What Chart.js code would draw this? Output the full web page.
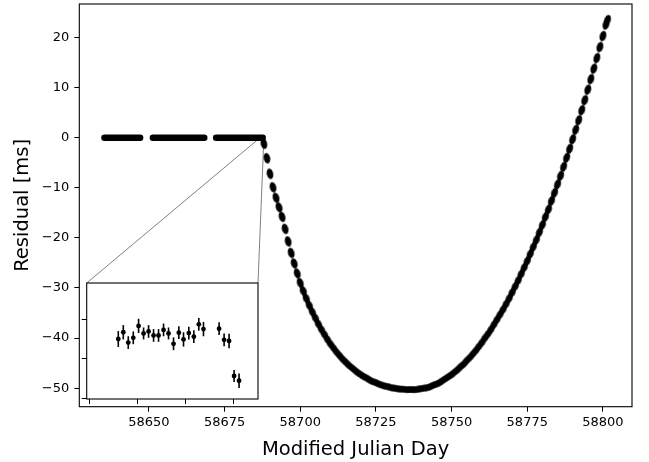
<!DOCTYPE html>
<html><head><meta charset="utf-8">
<script src="https://cdn.jsdelivr.net/npm/chart.js@4"></script>
<style>
html,body{margin:0;padding:0;background:#fff;}
#wrap{position:relative;width:649px;height:462px;overflow:hidden;}
#main{position:absolute;left:0;top:0;}
#inset{position:absolute;left:80px;top:279px;}
</style></head><body>
<div id="wrap"><canvas id="main" width="649" height="462"></canvas><canvas id="inset" width="182" height="128"></canvas></div>
<script>
// ---------- data ----------
// flat (pre-event) runs of timing residuals, all ~0 ms
const flatStart = [58635.3, 58651.3, 58672.2];
const flatEnd   = [58647.1, 58668.3, 58687.6];
const flatLevel = [0, 0, 0];

// post-event residuals [ms] vs MJD
const curveMJD = [58688,58689,58690,58691,58692,58693,58694,58695,58696,58697,58698,58699,58700,
58701,58702,58703,58704,58705,58706,58707,58708,58709,58710,58711,58712,58713,58714,58715,58716,58717,58718,58719,58720,
58721,58722,58723,58724,58725,58726,58727,58728,58729,58730,58731,58732,58733,58734,58735,58736,58737,58738,58739,58740,
58741,58742,58743,58744,58745,58746,58747,58748,58749,58750,58751,58752,58753,58754,58755,58756,58757,58758,58759,58760,
58761,58762,58763,58764,58765,58766,58767,58768,58769,58770,58771,58772,58773,58774,58775,58776,58777,58778,58779,58780,
58781,58782,58783,58784,58785,58786,58787,58788,58789,58790,58791,58792,58793,58794,58795,58796,58797,58798,58799,58800,58801,58801.5];
const curveRes = [-1.2,-4.1,-7.2,-9.9,-12.0,-13.9,-15.8,-18.2,-20.7,-23.0,-25.1,-27.1,-29.0,
-30.6,-32.1,-33.5,-34.8,-36.0,-37.2,-38.3,-39.3,-40.3,-41.2,-42.0,-42.8,-43.5,-44.2,-44.8,-45.4,-45.9,-46.4,-46.9,-47.3,
-47.7,-48.0,-48.4,-48.7,-48.9,-49.2,-49.4,-49.6,-49.7,-49.9,-50.0,-50.1,-50.2,-50.2,-50.3,-50.3,-50.3,-50.3,-50.2,-50.1,
-50.0,-49.9,-49.7,-49.4,-49.2,-48.9,-48.5,-48.1,-47.7,-47.3,-46.8,-46.3,-45.7,-45.2,-44.5,-43.9,-43.2,-42.5,-41.7,-40.9,
-40.0,-39.2,-38.3,-37.3,-36.3,-35.3,-34.3,-33.2,-32.1,-30.9,-29.7,-28.5,-27.2,-25.9,-24.6,-23.2,-21.8,-20.4,-18.9,-17.4,
-15.8,-14.3,-12.6,-11.0,-9.3,-7.6,-5.8,-4.0,-2.2,-0.3,1.6,3.5,5.5,7.5,9.6,11.7,13.8,15.9,18.1,20.3,22.6,23.5];

const xTicks = [58650, 58675, 58700, 58725, 58750, 58775, 58800];
const yTicks = [-50, -40, -30, -20, -10, 0, 10, 20];
const xRange = [58627.0, 58809.6];
const yRange = [-53.7, 26.7];

// zoomed region shown in the inset (main-axis units)
const zoomX = [58687.3, 58688.0];
const zoomY = [-0.3, 0.3];

// inset: residuals in the zoomed window (inset units, unlabelled axes)
const insetX = [6.07,7.11,8.14,9.18,10.28,11.32,12.35,13.39,14.42,15.46,16.49,17.53,18.63,19.60,20.70,21.74,22.77,23.74,26.98,28.02,29.05,30.09,31.12];
const insetY = [5.0,6.7,4.1,5.3,8.3,6.4,6.9,5.9,5.9,7.3,6.4,3.8,6.6,4.9,6.5,5.6,8.7,7.5,7.6,4.8,4.5,-4.3,-5.5];
const insetErr = [2.0,1.8,1.6,1.6,1.8,1.5,1.6,1.6,1.6,1.6,1.5,1.6,1.6,1.8,1.6,1.6,1.6,1.8,1.6,1.6,1.8,1.5,1.8];
const insetXTicks = [0, 10, 20, 30];
const insetYTicks = [-10, 0, 10];
const insetXRange = [-0.48, 35.05];
const insetYRange = [-10.1, 19.1];

// ---------- layout / style ----------
const insetPos = {left: 80, top: 279};

Chart.defaults.font.family = "'DejaVu Sans', sans-serif";
Chart.defaults.color = '#000';

// elongated marker (a day's cluster of TOAs), oriented along the curve
const blob = document.createElement('canvas');
blob.width = 11; blob.height = 7;
(function () {
  const c = blob.getContext('2d');
  c.fillStyle = '#000';
  c.beginPath();
  c.ellipse(5.5, 3.5, 5.3, 3.3, 0, 0, Math.PI * 2);
  c.fill();
})();

const framePlugin = {
  id: 'frame',
  afterDraw(chart) {
    const {ctx, chartArea: a} = chart;
    ctx.save();
    ctx.strokeStyle = '#000';
    ctx.lineWidth = 1.1;
    ctx.strokeRect(a.left, a.top, a.right - a.left, a.bottom - a.top);
    ctx.restore();
  }
};

const whiteBg = {
  id: 'whiteBg',
  beforeDraw(chart) {
    const {ctx, chartArea: a} = chart;
    ctx.save();
    ctx.fillStyle = '#fff';
    ctx.fillRect(a.left, a.top, a.right - a.left, a.bottom - a.top);
    ctx.restore();
  }
};

const errorBars = {
  id: 'errorBars',
  beforeDatasetsDraw(chart) {
    const {ctx, scales: {x, y}} = chart;
    ctx.save();
    ctx.strokeStyle = '#000';
    ctx.lineWidth = 1.6;
    insetX.forEach((xv, i) => {
      const px = x.getPixelForValue(xv);
      ctx.beginPath();
      ctx.moveTo(px, y.getPixelForValue(insetY[i] - insetErr[i]));
      ctx.lineTo(px, y.getPixelForValue(insetY[i] + insetErr[i]));
      ctx.stroke();
    });
    ctx.restore();
  }
};

function fixedTicks(vals) {
  return (s) => { s.ticks = vals.map(v => ({value: v})); };
}
function fixSize(prop, size) {
  return (s) => {
    s[prop] = size;
    s.paddingTop = 0; s.paddingBottom = 0; s.paddingLeft = 0; s.paddingRight = 0;
  };
}

const insetChart = new Chart(document.getElementById('inset'), {
  type: 'scatter',
  data: {datasets: [{
    data: insetX.map((v, i) => ({x: v, y: insetY[i]})),
    pointRadius: 2.4, pointBackgroundColor: '#000', pointBorderWidth: 0
  }]},
  options: {
    responsive: false, animation: false, devicePixelRatio: 1,
    layout: {padding: {left: 0, top: 3.7, right: 3.7, bottom: 0}},
    plugins: {legend: {display: false}, tooltip: {enabled: false}},
    scales: {
      x: {type: 'linear', min: insetXRange[0], max: insetXRange[1],
          afterBuildTicks: fixedTicks(insetXTicks), afterFit: fixSize('height', 8),
          ticks: {display: false},
          grid: {drawOnChartArea: false, color: '#000', tickLength: 5, tickWidth: 1},
          border: {display: false}},
      y: {type: 'linear', min: insetYRange[0], max: insetYRange[1],
          afterBuildTicks: fixedTicks(insetYTicks), afterFit: fixSize('width', 6.7),
          ticks: {display: false},
          grid: {drawOnChartArea: false, color: '#000', tickLength: 5, tickWidth: 1},
          border: {display: false}}
    }
  },
  plugins: [whiteBg, errorBars, framePlugin]
});

const connectors = {
  id: 'connectors',
  beforeDatasetsDraw(chart) {
    const {ctx, scales: {x, y}} = chart;
    const ia = insetChart.chartArea;
    const bx0 = x.getPixelForValue(zoomX[0]), bx1 = x.getPixelForValue(zoomX[1]);
    const by0 = y.getPixelForValue(zoomY[1]), by1 = y.getPixelForValue(zoomY[0]);
    ctx.save();
    ctx.strokeStyle = '#808080';
    ctx.lineWidth = 1;
    ctx.strokeRect(bx0, by0, bx1 - bx0, by1 - by0);
    ctx.beginPath();
    ctx.moveTo(insetPos.left + ia.left, insetPos.top + ia.top);
    ctx.lineTo(bx0, by0);
    ctx.moveTo(insetPos.left + ia.right, insetPos.top + ia.top);
    ctx.lineTo(bx1, by0);
    ctx.stroke();
    ctx.restore();
  }
};

function curveAngle(ctx) {
  const i = ctx.dataIndex;
  const sx = ctx.chart.scales.x, sy = ctx.chart.scales.y;
  if (!sx || !sy) return 0;
  const a = Math.max(0, i - 1), b = Math.min(curveMJD.length - 1, i + 1);
  const dx = sx.getPixelForValue(curveMJD[b]) - sx.getPixelForValue(curveMJD[a]);
  const dy = sy.getPixelForValue(curveRes[b]) - sy.getPixelForValue(curveRes[a]);
  return Math.atan2(dy, dx) * 180 / Math.PI;
}

const flatSets = flatStart.map((s, i) => ({
  data: [{x: s, y: flatLevel[i]}, {x: flatEnd[i], y: flatLevel[i]}],
  showLine: true, borderColor: '#000', borderWidth: 6.4, borderCapStyle: 'round',
  pointRadius: 0
}));

new Chart(document.getElementById('main'), {
  type: 'scatter',
  data: {datasets: [...flatSets, {
    data: curveMJD.map((v, i) => ({x: v, y: curveRes[i]})),
    pointStyle: blob, pointRadius: 4, pointRotation: curveAngle,
    pointBackgroundColor: '#000', pointBorderWidth: 0
  }]},
  options: {
    responsive: false, animation: false, devicePixelRatio: 1,
    layout: {padding: {left: 0, top: 0.7, right: 17, bottom: 0}},
    plugins: {legend: {display: false}, tooltip: {enabled: false}},
    scales: {
      x: {type: 'linear', min: xRange[0], max: xRange[1],
          afterBuildTicks: fixedTicks(xTicks), afterFit: fixSize('height', 55.3),
          ticks: {font: {size: 13}, color: '#000', padding: 3, maxRotation: 0, autoSkip: false,
                  callback: v => String(v)},
          grid: {drawOnChartArea: false, color: '#000', tickLength: 5, tickWidth: 1},
          border: {display: false},
          title: {display: true, text: 'Modified Julian Day', color: '#000',
                  font: {size: 19.5}, padding: {top: 0, bottom: 0}}},
      y: {type: 'linear', min: yRange[0], max: yRange[1],
          afterBuildTicks: fixedTicks(yTicks), afterFit: fixSize('width', 79.3),
          ticks: {font: {size: 13}, color: '#000', padding: 5, autoSkip: false,
                  callback: v => (v < 0 ? '\u2212' + Math.abs(v) : String(v))},
          grid: {drawOnChartArea: false, color: '#000', tickLength: 5, tickWidth: 1},
          border: {display: false},
          title: {display: true, text: 'Residual [ms]', color: '#000',
                  font: {size: 19.5}, padding: {top: 11, bottom: 0}}}
    }
  },
  plugins: [connectors, framePlugin]
});
</script>
</body></html>
